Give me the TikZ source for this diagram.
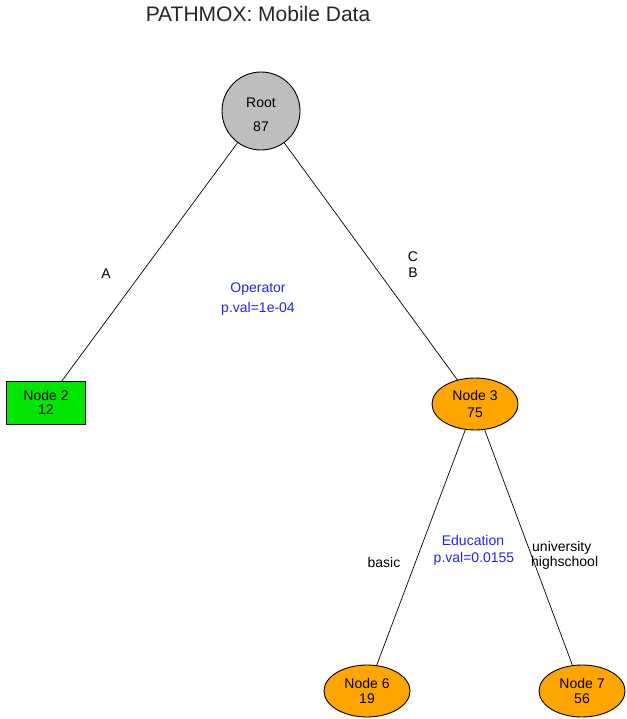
\documentclass[tikz,border=0pt]{standalone}
\usepackage{fontspec}
\setmainfont{Liberation Sans}
\usetikzlibrary{shapes.geometric,backgrounds}
\definecolor{rgray}{RGB}{190,190,190}
\definecolor{rgreen}{RGB}{0,230,0}
\definecolor{rorange}{RGB}{255,165,0}
\definecolor{rblue}{RGB}{35,35,235}
\tikzset{
  treenode/.style={draw=black, line width=0.9pt, inner sep=0pt, align=center},
  rootnode/.style={treenode, circle, fill=rgray, minimum size=78pt},
  leafbox/.style={treenode, rectangle, fill=rgreen, minimum width=79pt, minimum height=43pt, font=\fontsize{14}{13.5}\selectfont},
  innerell/.style={treenode, ellipse, fill=rorange, minimum width=86pt, minimum height=52pt, font=\fontsize{14}{16.5}\selectfont},
  leafell/.style={treenode, ellipse, fill=rorange, minimum width=86pt, minimum height=52pt, font=\fontsize{14}{15}\selectfont},
  branch/.style={draw=black, line width=0.7pt},
  lbl/.style={inner sep=0pt, text height=10pt, text depth=0pt, font=\fontsize{14}{16}\selectfont},
  stat/.style={lbl, text=rblue}
}
\begin{document}
\begin{tikzpicture}[x=1pt,y=-1pt]
\useasboundingbox (0,0) rectangle (626,719);
\node[font=\fontsize{21}{24}\selectfont, text=black!85, inner sep=0pt, text height=15pt, text depth=0pt] (title) at (258,14) {PATHMOX: Mobile Data};
\node[rootnode] (root) at (261,111) {};
\node[inner sep=0pt, align=center, font=\fontsize{14}{24}\selectfont] (roottxt) at (261,115) {Root\\87};
\node[leafbox] (n2) at (46,402.5) {Node 2\\12};
\node[innerell] (n3) at (475,404) {Node 3\\75};
\node[leafell] (n6) at (367,691) {Node 6\\19};
\node[leafell] (n7) at (582,691) {Node 7\\56};
\begin{pgfonlayer}{background}
\draw[branch] (root.center) -- (n2.center);
\draw[branch] (root.center) -- (n3.center);
\draw[branch] (n3.center) -- (n6.center);
\draw[branch] (n3.center) -- (n7.center);
\end{pgfonlayer}
\node[lbl] (la) at (106,273) {A};
\node[lbl] (lc) at (413,256) {C};
\node[lbl] (lb) at (413,272) {B};
\node[stat] (op1) at (258,287) {Operator};
\node[stat] (op2) at (258,307) {p.val=1e-04};
\node[lbl] (lbasic) at (384,562) {basic};
\node[stat] (ed1) at (473,540) {Education};
\node[stat] (ed2) at (474,557) {p.val=0.0155};
\node[lbl, anchor=west] (luni) at (532,546) {university};
\node[lbl, anchor=west] (lhigh) at (531,561) {highschool};
\end{tikzpicture}
\end{document}
